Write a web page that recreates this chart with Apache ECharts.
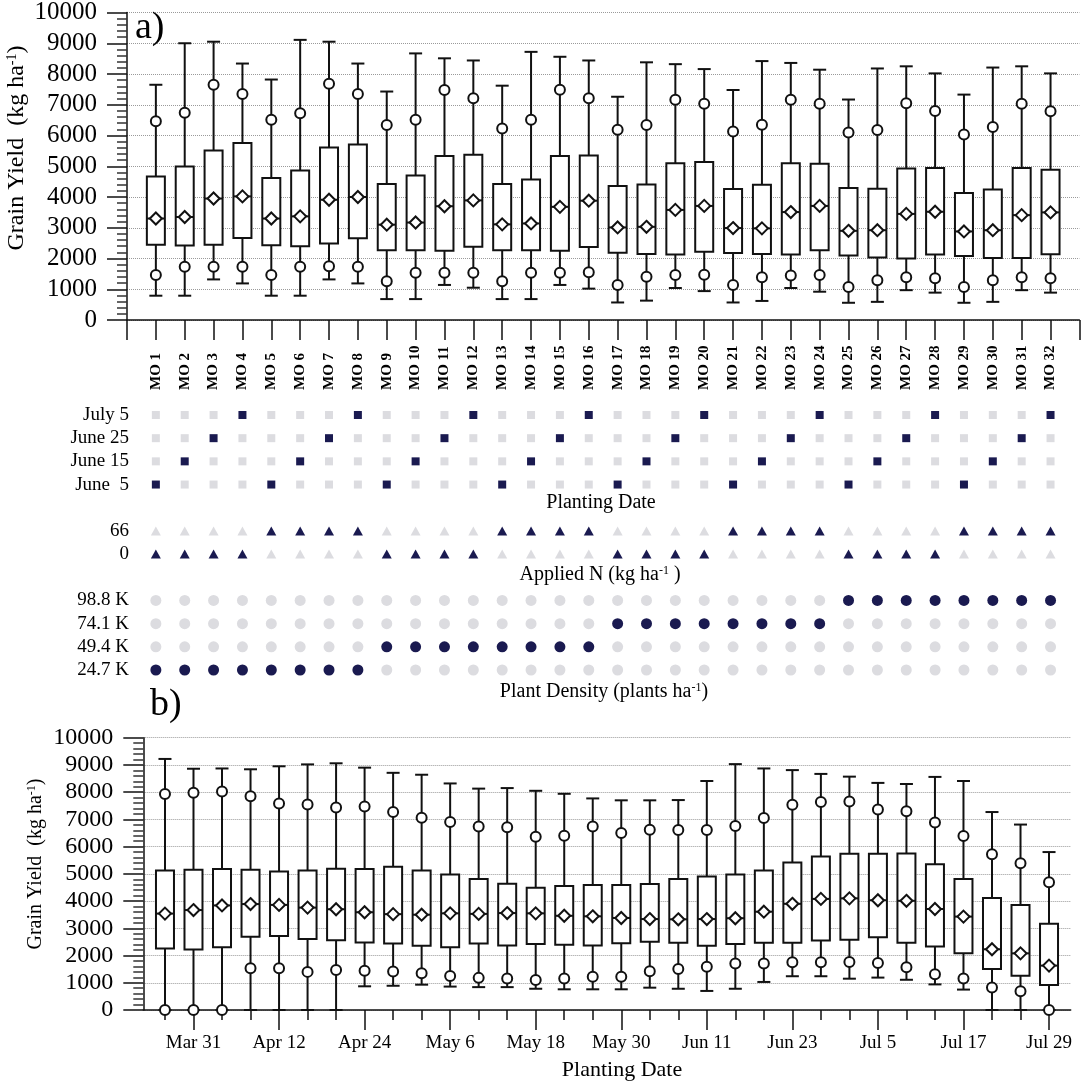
<!DOCTYPE html>
<html>
<head>
<meta charset="utf-8">
<script src="https://cdn.jsdelivr.net/npm/echarts@6/dist/echarts.min.js"></script>
<style>
html, body { margin: 0; padding: 0; background: #fff; }
#chart { width: 1084px; height: 1088px; }
</style>
</head>
<body>
<div id="chart"></div>
<script>
// panel a) categories
const moLabels = ['MO 1', 'MO 2', 'MO 3', 'MO 4', 'MO 5', 'MO 6', 'MO 7', 'MO 8',
  'MO 9', 'MO 10', 'MO 11', 'MO 12', 'MO 13', 'MO 14', 'MO 15', 'MO 16',
  'MO 17', 'MO 18', 'MO 19', 'MO 20', 'MO 21', 'MO 22', 'MO 23', 'MO 24',
  'MO 25', 'MO 26', 'MO 27', 'MO 28', 'MO 29', 'MO 30', 'MO 31', 'MO 32']

// panel a) yield stats, kg/ha
const aMin = [790, 790, 1320, 1190, 790, 790, 1320, 1190, 680, 680, 1140, 1050, 680, 680, 1140, 1020,
  570, 630, 1040, 940, 570, 620, 1040, 920, 560, 590, 970, 890, 560, 590, 970, 890]
const aP10 = [1460, 1730, 1730, 1730, 1460, 1730, 1750, 1730, 1260, 1540, 1540, 1540, 1260, 1540, 1540, 1550,
  1140, 1410, 1460, 1470, 1140, 1390, 1450, 1460, 1070, 1290, 1390, 1360, 1070, 1290, 1390, 1360]
const aQ1 = [2450, 2420, 2450, 2670, 2430, 2400, 2490, 2660, 2270, 2270, 2250, 2380, 2270, 2270, 2250, 2370,
  2190, 2150, 2130, 2220, 2180, 2150, 2130, 2270, 2100, 2030, 2000, 2130, 2080, 2020, 2020, 2140]
const aMed = [3300, 3350, 3950, 4020, 3300, 3370, 3910, 4000, 3100, 3170, 3700, 3890, 3110, 3140, 3680, 3880,
  3010, 3030, 3580, 3710, 2990, 2980, 3510, 3710, 2900, 2920, 3450, 3520, 2880, 2920, 3410, 3500]
const aQ3 = [4670, 4990, 5510, 5760, 4620, 4860, 5610, 5710, 4420, 4700, 5330, 5370, 4420, 4570, 5330, 5350,
  4360, 4410, 5100, 5140, 4260, 4400, 5100, 5080, 4290, 4270, 4930, 4940, 4130, 4240, 4940, 4890]
const aP90 = [6460, 6740, 7650, 7350, 6510, 6720, 7680, 7350, 6340, 6510, 7480, 7210, 6230, 6510, 7490, 7210,
  6190, 6340, 7160, 7030, 6130, 6350, 7160, 7030, 6100, 6180, 7050, 6800, 6030, 6280, 7030, 6790]
const aMax = [7650, 9000, 9050, 8340, 7820, 9110, 9050, 8340, 7430, 8670, 8510, 8440, 7620, 8720, 8560, 8440,
  7260, 8380, 8320, 8160, 7480, 8420, 8360, 8140, 7170, 8180, 8250, 8020, 7330, 8210, 8250, 8020]

// management factors of each MO run (index into the level lists)
const dateLevels = ['June  5', 'June 15', 'June 25', 'July 5']
const nLevels = ['0', '66']
const densityLevels = ['24.7 K', '49.4 K', '74.1 K', '98.8 K']
const moDate = [0, 1, 2, 3, 0, 1, 2, 3, 0, 1, 2, 3, 0, 1, 2, 3, 0, 1, 2, 3, 0, 1, 2, 3, 0, 1, 2, 3, 0, 1, 2, 3]
const moN = [0, 0, 0, 0, 1, 1, 1, 1, 0, 0, 0, 0, 1, 1, 1, 1, 0, 0, 0, 0, 1, 1, 1, 1, 0, 0, 0, 0, 1, 1, 1, 1]
const moDensity = [0, 0, 0, 0, 0, 0, 0, 0, 1, 1, 1, 1, 1, 1, 1, 1, 2, 2, 2, 2, 2, 2, 2, 2, 3, 3, 3, 3, 3, 3, 3, 3]

// panel b) planting dates
const datesB = ['Mar 27', 'Mar 31', 'Apr 4', 'Apr 8', 'Apr 12', 'Apr 16', 'Apr 20', 'Apr 24',
  'Apr 28', 'May 2', 'May 6', 'May 10', 'May 14', 'May 18', 'May 22', 'May 26',
  'May 30', 'Jun 3', 'Jun 7', 'Jun 11', 'Jun 15', 'Jun 19', 'Jun 23', 'Jun 27',
  'Jul 1', 'Jul 5', 'Jul 9', 'Jul 13', 'Jul 17', 'Jul 21', 'Jul 25', 'Jul 29']
const tickDatesB = ['Mar 31', 'Apr 12', 'Apr 24', 'May 6', 'May 18', 'May 30', 'Jun 11', 'Jun 23', 'Jul 5', 'Jul 17', 'Jul 29']

const bMin = [0, 0, 0, 0, 0, 0, 0, 870, 890, 930, 860, 840, 840, 780, 760, 760,
  760, 820, 780, 700, 780, 1030, 1240, 1240, 1150, 1190, 1110, 940, 750, 0, 0, 0]
const bP10 = [0, 0, 0, 1530, 1530, 1400, 1470, 1440, 1410, 1350, 1250, 1180, 1160, 1100, 1160, 1220,
  1220, 1420, 1510, 1590, 1710, 1710, 1750, 1750, 1760, 1730, 1570, 1310, 1160, 830, 690, 0]
const bQ1 = [2260, 2220, 2300, 2690, 2720, 2610, 2560, 2480, 2440, 2360, 2300, 2440, 2370, 2420, 2400, 2370,
  2450, 2510, 2470, 2360, 2420, 2470, 2470, 2550, 2580, 2670, 2470, 2330, 2080, 1510, 1260, 920]
const bMed = [3540, 3670, 3840, 3890, 3860, 3760, 3700, 3590, 3520, 3500, 3550, 3530, 3560, 3550, 3460, 3440,
  3380, 3340, 3330, 3340, 3370, 3610, 3900, 4080, 4100, 4030, 4010, 3710, 3430, 2230, 2080, 1630]
const bQ3 = [5120, 5150, 5180, 5150, 5090, 5120, 5190, 5180, 5260, 5120, 4980, 4810, 4640, 4490, 4550, 4590,
  4590, 4630, 4810, 4900, 4980, 5120, 5420, 5640, 5740, 5740, 5750, 5350, 4810, 4110, 3860, 3170]
const bP90 = [7930, 7980, 8020, 7850, 7580, 7550, 7440, 7470, 7270, 7060, 6900, 6740, 6710, 6360, 6400, 6740,
  6500, 6620, 6610, 6610, 6760, 7050, 7540, 7640, 7660, 7360, 7300, 6890, 6390, 5720, 5390, 4690]
const bMax = [9220, 8860, 8870, 8840, 8950, 9020, 9060, 8900, 8710, 8640, 8320, 8130, 8150, 8050, 7940, 7770,
  7700, 7700, 7710, 8410, 9030, 8870, 8810, 8670, 8570, 8340, 8300, 8560, 8410, 7270, 6810, 5800]

const ink = '#111'
const navy = '#1a1a50'
const pale = '#dcdce0'
const serif = 'Liberation Serif'

const chart = echarts.init(document.getElementById('chart'))

function boxItems(mn, q1, md, q3, mx) {
  return mn.map((v, i) => [i + 1, v, q1[i], md[i], q3[i], mx[i]])
}
function pointItems(arr) {
  return arr.map((v, i) => [i + 1, v])
}

function renderBox(params, api) {
  const x = api.value(0)
  const lo = api.coord([x, api.value(1)])
  const q1 = api.coord([x, api.value(2)])
  const md = api.coord([x, api.value(3)])
  const q3 = api.coord([x, api.value(4)])
  const hi = api.coord([x, api.value(5)])
  const cx = lo[0], bw = 18, cw = 13
  const st = { stroke: ink, lineWidth: 2 }
  return {
    type: 'group',
    children: [
      { type: 'line', shape: { x1: cx, y1: lo[1], x2: cx, y2: hi[1] }, style: st },
      { type: 'line', shape: { x1: cx - cw / 2, y1: lo[1], x2: cx + cw / 2, y2: lo[1] }, style: st },
      { type: 'line', shape: { x1: cx - cw / 2, y1: hi[1], x2: cx + cw / 2, y2: hi[1] }, style: st },
      { type: 'rect', shape: { x: cx - bw / 2, y: q3[1], width: bw, height: q1[1] - q3[1] },
        style: { stroke: ink, lineWidth: 2, fill: '#fff' } },
      { type: 'line', shape: { x1: cx - bw / 2, y1: md[1], x2: cx + bw / 2, y2: md[1] }, style: st }
    ]
  }
}

// matrix rows, top to bottom; blank rows keep the gaps between the groups
const matrixRows = [dateLevels[3], dateLevels[2], dateLevels[1], dateLevels[0], ' ',
  nLevels[1], nLevels[0], '  ',
  densityLevels[3], densityLevels[2], densityLevels[1], densityLevels[0]]

function matrixItems(levels, chosen, rowOf) {
  const out = []
  moLabels.forEach((m, i) => {
    levels.forEach((lv, k) => {
      out.push({ value: [i + 1, rowOf(k)], itemStyle: { color: chosen[i] === k ? navy : pale, opacity: 1 } })
    })
  })
  return out
}

const labeledPosB = tickDatesB.map(d => datesB.indexOf(d) + 1)
const allPosB = datesB.map((d, i) => i + 1)

function yAxisYield(grid, fs) {
  return {
    gridIndex: grid, type: 'value', min: 0, max: 10000, interval: 1000,
    axisLine: { show: true, lineStyle: { color: ink, width: 1.5 } },
    axisTick: { show: true, length: 20, lineStyle: { color: ink, width: 1.5 } },
    minorTick: { show: true, splitNumber: 5, length: 10, lineStyle: { color: '#333', width: 1.5 } },
    axisLabel: { color: '#000', fontFamily: serif, fontSize: fs, margin: 30, formatter: v => String(v) },
    splitLine: { show: true, lineStyle: { color: '#9a9a9a', type: 'dotted', width: 1 } }
  }
}

const circleStyle = { color: '#fff', borderColor: ink, borderWidth: 2, opacity: 1 }

function supText(x, y, main, tail, fs, rot) {
  return {
    type: 'text', x: x, y: y, rotation: rot || 0, z: 10,
    style: {
      text: main + '{s|-1}' + tail,
      fontFamily: serif, fontSize: fs, fill: '#000',
      align: 'center', verticalAlign: 'middle',
      rich: { s: { fontFamily: serif, fontSize: Math.round(fs * 0.6), verticalAlign: 'top' } }
    }
  }
}

const option = {
  animation: false,
  backgroundColor: '#fff',
  textStyle: { fontFamily: serif },
  grid: [
    { left: 127, top: 11.7, width: 952.4, height: 308.3 },
    { left: 127, top: 403.4, width: 952.4, height: 278.2 },
    { left: 143.3, top: 737.7, width: 927.4, height: 272.3 }
  ],
  xAxis: [
    {
      gridIndex: 0, type: 'value', min: 0, max: 33, interval: 1,
      axisLine: { lineStyle: { color: ink, width: 1.5 } },
      axisTick: { length: 20, lineStyle: { color: ink, width: 1.5 } },
      splitLine: { show: false },
      axisLabel: {
        rotate: 90, align: 'left', margin: 70, color: '#000',
        fontFamily: serif, fontWeight: 'bold', fontSize: 15,
        formatter: v => moLabels[v - 1] || ''
      }
    },
    { gridIndex: 1, type: 'value', min: 0, max: 33, show: false },
    {
      gridIndex: 2, type: 'value', min: 0.24, max: 32.76,
      axisLine: { lineStyle: { color: ink, width: 1.5 } },
      axisTick: { customValues: allPosB, length: 10, lineStyle: { color: ink, width: 1.5 } },
      axisLabel: { show: false },
      splitLine: { show: false }
    },
    {
      gridIndex: 2, type: 'value', min: 0.24, max: 32.76, position: 'bottom',
      axisLine: { show: false },
      axisTick: { customValues: labeledPosB, length: 20, lineStyle: { color: ink, width: 1.5 } },
      axisLabel: {
        customValues: labeledPosB, color: '#000', fontFamily: serif, fontSize: 19, margin: 24,
        formatter: v => datesB[Math.round(v) - 1]
      },
      splitLine: { show: false }
    }
  ],
  yAxis: [
    yAxisYield(0, 25),
    {
      gridIndex: 1, type: 'category', inverse: true, data: matrixRows,
      axisLine: { show: false }, axisTick: { show: false }, splitLine: { show: false },
      axisLabel: { interval: 0, color: '#000', fontFamily: serif, fontSize: 19, margin: -2 }
    },
    yAxisYield(2, 24)
  ],
  graphic: [
    { type: 'text', x: 135, y: 28, z: 10, style: { text: 'a)', fontFamily: serif, fontSize: 38, fill: '#000', verticalAlign: 'middle' } },
    { type: 'text', x: 150, y: 705, z: 10, style: { text: 'b)', fontFamily: serif, fontSize: 38, fill: '#000', verticalAlign: 'middle' } },
    supText(17, 148, 'Grain Yield  (kg ha', ')', 24, Math.PI / 2),
    supText(36, 864, 'Grain Yield  (kg ha', ')', 20, Math.PI / 2),
    { type: 'text', x: 601, y: 503, z: 10, style: { text: 'Planting Date', fontFamily: serif, fontSize: 20, fill: '#000', align: 'center', verticalAlign: 'middle' } },
    supText(600, 575, 'Applied N (kg ha', ' )', 20),
    supText(604, 692, 'Plant Density (plants ha', ')', 20),
    { type: 'text', x: 622, y: 1070, z: 10, style: { text: 'Planting Date', fontFamily: serif, fontSize: 22, fill: '#000', align: 'center', verticalAlign: 'middle' } }
  ],
  series: [
    {
      type: 'custom', xAxisIndex: 0, yAxisIndex: 0, z: 2,
      renderItem: renderBox, data: boxItems(aMin, aQ1, aMed, aQ3, aMax)
    },
    {
      type: 'scatter', xAxisIndex: 0, yAxisIndex: 0, z: 3, clip: false,
      symbol: 'circle', symbolSize: 10, itemStyle: circleStyle,
      data: pointItems(aP10).concat(pointItems(aP90))
    },
    {
      type: 'scatter', xAxisIndex: 0, yAxisIndex: 0, z: 3, clip: false,
      symbol: 'diamond', symbolSize: 12, itemStyle: circleStyle,
      data: pointItems(aMed)
    },
    {
      type: 'scatter', xAxisIndex: 1, yAxisIndex: 1, symbol: 'rect', symbolSize: 8,
      data: matrixItems(dateLevels, moDate, k => 3 - k)
    },
    {
      type: 'scatter', xAxisIndex: 1, yAxisIndex: 1, symbol: 'triangle', symbolSize: [10, 9],
      data: matrixItems(nLevels, moN, k => 6 - k)
    },
    {
      type: 'scatter', xAxisIndex: 1, yAxisIndex: 1, symbol: 'circle', symbolSize: 11,
      data: matrixItems(densityLevels, moDensity, k => 11 - k)
    },
    {
      type: 'custom', xAxisIndex: 2, yAxisIndex: 2, z: 2,
      renderItem: renderBox, data: boxItems(bMin, bQ1, bMed, bQ3, bMax)
    },
    {
      type: 'scatter', xAxisIndex: 2, yAxisIndex: 2, z: 3, clip: false,
      symbol: 'circle', symbolSize: 10, itemStyle: circleStyle,
      data: pointItems(bP10).concat(pointItems(bP90))
    },
    {
      type: 'scatter', xAxisIndex: 2, yAxisIndex: 2, z: 3, clip: false,
      symbol: 'diamond', symbolSize: 12, itemStyle: circleStyle,
      data: pointItems(bMed)
    }
  ]
}
chart.setOption(option)
</script>
</body>
</html>
